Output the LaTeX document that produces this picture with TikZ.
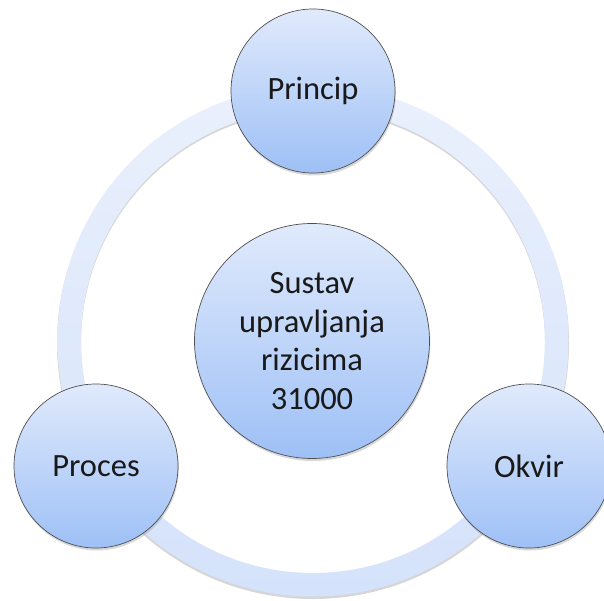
\documentclass[tikz,border=0pt]{standalone}
\usepackage{fontspec}
\setmainfont{Carlito}
\usetikzlibrary{shadows}
\definecolor{circtop}{RGB}{224,234,252}
\definecolor{circbot}{RGB}{158,192,246}
\definecolor{ringtop}{RGB}{234,240,252}
\definecolor{ringbot}{RGB}{212,226,251}
\definecolor{edgegray}{RGB}{80,80,80}
\tikzset{
  bubble/.style={circle, minimum size=164pt, inner sep=0pt,
    top color=circtop, bottom color=circbot, draw=edgegray, line width=0.7pt,
    font=\fontsize{32.5}{38.7}\selectfont, align=center, text=black!90,
    drop shadow={shadow xshift=0.8pt, shadow yshift=-2.5pt, opacity=0.3}},
  hub/.style={bubble, minimum size=235pt},
  ringshadow/.style={fill=black, opacity=0.16, even odd rule},
  ringband/.style={top color=ringtop, bottom color=ringbot, even odd rule}
}
\begin{document}
\begin{tikzpicture}[x=1pt,y=1pt]
\useasboundingbox (0,0) rectangle (604,600);
\fill[white] (0,0) rectangle (604,600);
\coordinate (c) at (313,259);
\coordinate (cs) at (313,257);
% ring
\fill[ringshadow] (cs) circle (256) (cs) circle (232);
\shade[ringband] (c) circle (255.5) (c) circle (232);
% nodes
\node[hub] (hub) at (312,259) {Sustav\\upravljanja\\rizicima\\31000};
\node[bubble] (princip) at (313,509) {Princip};
\node[bubble] (proces) at (96,134) {Proces};
\node[bubble] (okvir) at (529,134) {Okvir};
\end{tikzpicture}
\end{document}
